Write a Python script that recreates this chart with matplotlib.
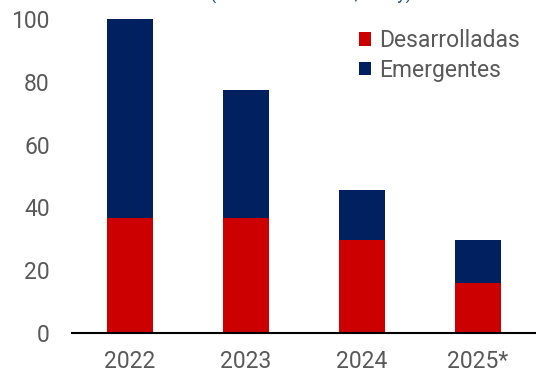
import matplotlib.pyplot as plt
import numpy as np

years = ["2022", "2023", "2024", "2025*"]
desarrolladas = [36.5, 36.5, 29.6, 16.0]
emergentes = [63.5, 41.0, 16.0, 13.6]

RED = "#CC0000"
NAVY = "#002060"
GREY = "#595959"

plt.rcParams['font.family'] = ['Roboto', 'DejaVu Sans']

fig = plt.figure(figsize=(5.36, 3.75), dpi=100)
ax = fig.add_axes([72 / 536, 1 - 333 / 375, 1 - 72 / 536, (333 - 19) / 375])

x = np.arange(len(years))
ax.bar(x, desarrolladas, width=0.39, color=RED, label="Desarrolladas")
ax.bar(x, emergentes, width=0.39, bottom=desarrolladas, color=NAVY,
       label="Emergentes")

ax.set_xlim(-0.5, 3.5)
ax.set_ylim(0, 100)
ax.set_yticks(range(0, 101, 20))
ax.set_xticks(x)
ax.set_xticklabels(years)
ax.tick_params(axis='both', length=0, labelsize=16.5, colors=GREY)
ax.tick_params(axis='y', pad=16)
ax.tick_params(axis='x', pad=12)
for side in ["top", "right", "left"]:
    ax.spines[side].set_visible(False)
ax.spines["bottom"].set_color("black")
ax.spines["bottom"].set_linewidth(1.5)

leg = ax.legend(loc="upper right", bbox_to_anchor=(1.0, 1.02), frameon=False,
                fontsize=16.5, handlelength=0.55, handleheight=0.55,
                handletextpad=0.35, labelspacing=0.3, borderaxespad=0.3)
for t in leg.get_texts():
    t.set_color(GREY)

# subtitle sits mostly above the canvas
fig.text(0.58, 1.0, "(número de casos, a hoy)", color="#1F4E99", fontsize=13,
         ha="center", va="baseline")

fig.savefig("out.png", dpi=100)
